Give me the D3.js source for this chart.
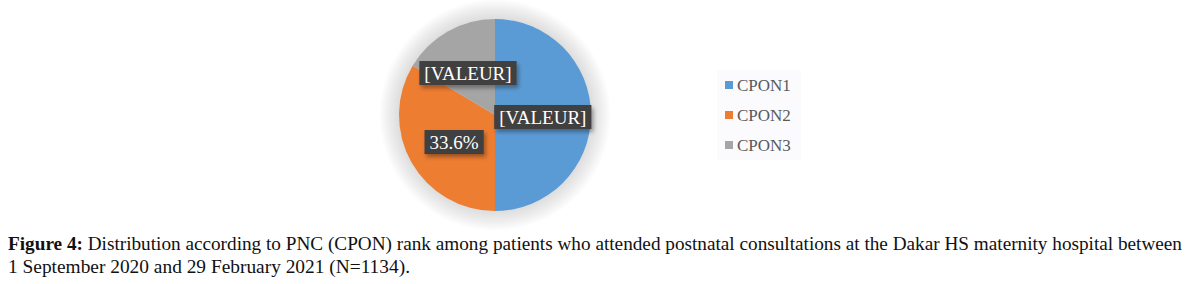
<!DOCTYPE html>
<html>
<head>
<meta charset="utf-8">
<script src="https://cdn.jsdelivr.net/npm/d3@7"></script>
<style>
  body { margin: 0; background: #fff; }
  svg { display: block; }
</style>
</head>
<body>
<div id="chart"></div>
<script>
const categories = ["CPON1", "CPON2", "CPON3"];
const counts = [567, 381, 186];
const labels = ["[VALEUR]", "33.6%", "[VALEUR]"];
const colors = ["#5b9bd5", "#ed7d31", "#a5a5a5"];

const width = 1193, height = 284;
const cx = 495, cy = 115, r = 96;
const serif = "'Liberation Serif', 'DejaVu Serif', serif";

const svg = d3.select("#chart").append("svg")
  .attr("width", width)
  .attr("height", height);

const defs = svg.append("defs");
const glow = defs.append("radialGradient").attr("id", "glow");
glow.append("stop").attr("offset", "82%").attr("stop-color", "#dcdcdc");
glow.append("stop").attr("offset", "92%").attr("stop-color", "#eeeeee");
glow.append("stop").attr("offset", "100%").attr("stop-color", "#ffffff");

const shadow = defs.append("filter").attr("id", "shadow")
  .attr("x", "-20%").attr("y", "-30%").attr("width", "150%").attr("height", "180%");
shadow.append("feDropShadow")
  .attr("dx", 2).attr("dy", 3).attr("stdDeviation", 2)
  .attr("flood-color", "#000").attr("flood-opacity", 0.35);

// soft halo around the pie
svg.append("circle")
  .attr("cx", cx).attr("cy", cy).attr("r", r + 20)
  .attr("fill", "url(#glow)");

const g = svg.append("g").attr("transform", `translate(${cx},${cy})`);

const pie = d3.pie().sort(null).value(d => d);
const arcs = pie(counts);
const arc = d3.arc().innerRadius(0).outerRadius(r);

g.selectAll("path")
  .data(arcs)
  .join("path")
  .attr("d", arc)
  .attr("fill", (d, i) => colors[i]);

// data labels: dark boxes with white text
const labelArc = d3.arc().innerRadius(r * 0.55).outerRadius(r * 0.55);
const offsets = [[-5, 2], [5, 1], [-1, 4]];
const lab = g.selectAll("g.lab")
  .data(arcs)
  .join("g")
  .attr("class", "lab")
  .attr("transform", (d, i) => {
    const [x, y] = labelArc.centroid(d);
    return `translate(${x + offsets[i][0]},${y + offsets[i][1]})`;
  });

lab.append("rect")
  .attr("fill", "#404040")
  .attr("filter", "url(#shadow)");
lab.append("text")
  .attr("text-anchor", "middle")
  .attr("dy", "0.35em")
  .attr("fill", "#fff")
  .attr("font-family", serif)
  .attr("font-size", 19)
  .text((d, i) => labels[i]);
lab.each(function () {
  const t = d3.select(this).select("text").node().getBBox();
  d3.select(this).select("rect")
    .attr("x", t.x - 5).attr("y", -12)
    .attr("width", t.width + 10).attr("height", 24);
});

// legend
svg.append("rect")
  .attr("x", 717).attr("y", 70).attr("width", 84).attr("height", 90)
  .attr("fill", "#fbfafd");
const legend = svg.append("g").attr("transform", "translate(725,85)");
const leg = legend.selectAll("g")
  .data(categories)
  .join("g")
  .attr("transform", (d, i) => `translate(0,${i * 30})`);
leg.append("rect")
  .attr("x", 0).attr("y", -4).attr("width", 8).attr("height", 8)
  .attr("fill", (d, i) => colors[i]);
leg.append("text")
  .attr("x", 12).attr("dy", "0.35em")
  .attr("fill", "#595959")
  .attr("font-family", serif)
  .attr("font-size", 17)
  .text(d => d);

// caption
const cap = svg.append("g")
  .attr("font-family", serif)
  .attr("font-size", 19)
  .attr("fill", "#111");
const line1 = cap.append("text").attr("x", 8).attr("y", 250)
  .attr("textLength", 1174).attr("lengthAdjust", "spacingAndGlyphs");
line1.append("tspan").attr("font-weight", "bold").text("Figure 4:");
line1.append("tspan").text(" Distribution according to PNC (CPON) rank among patients who attended postnatal consultations at the Dakar HS maternity hospital between");
cap.append("text").attr("x", 8).attr("y", 273)
  .attr("textLength", 402).attr("lengthAdjust", "spacingAndGlyphs")
  .text("1 September 2020 and 29 February 2021 (N=1134).");
</script>
</body>
</html>
